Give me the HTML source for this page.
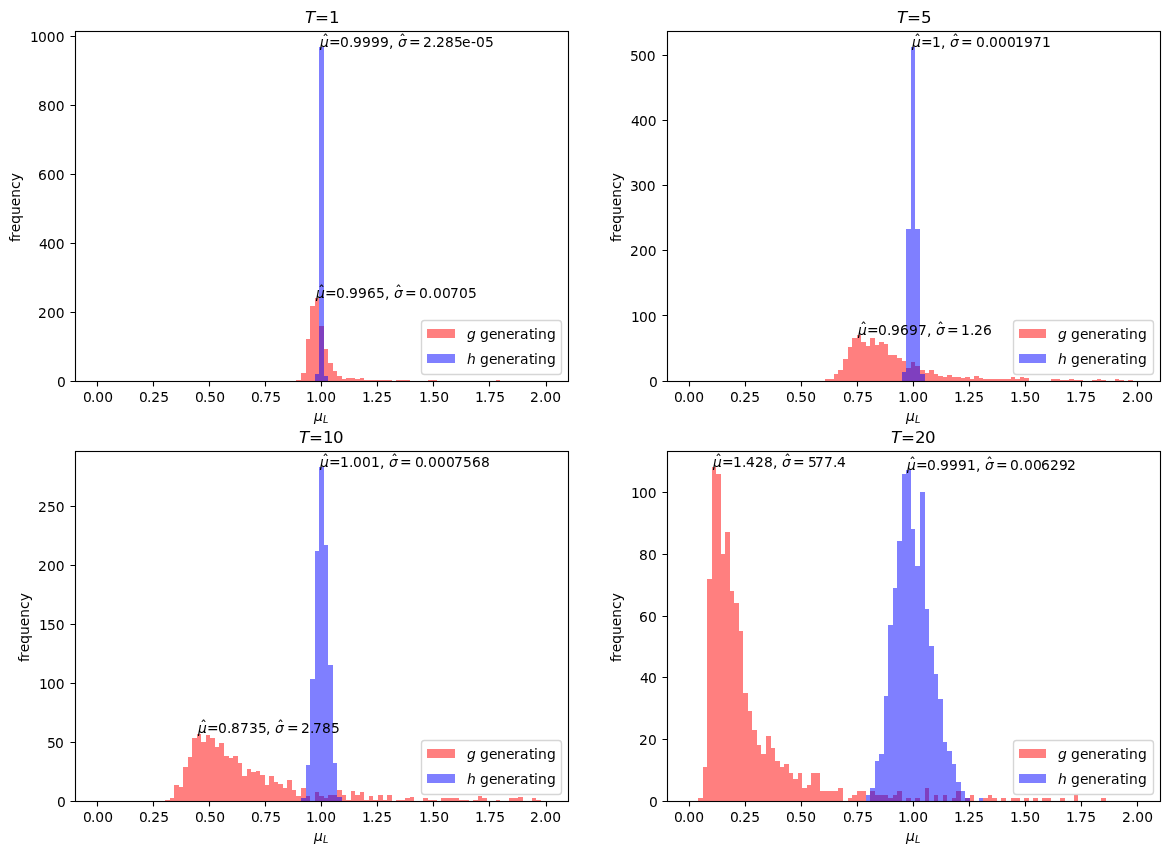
<!DOCTYPE html>
<html lang="en"><head><meta charset="utf-8"><title>Importance sampling histograms</title>
<style>html,body{margin:0;padding:0;background:#fff;overflow:hidden}svg{display:block}text{white-space:pre}</style></head>
<body>
<svg width="1169" height="855" viewBox="0 0 1169 855" font-family="'DejaVu Sans','Liberation Sans',sans-serif" font-size="13.8889" fill="#000">
<rect width="1169" height="855" fill="#fff"/>
<g id="ax1">
<path class="bars-g" fill="#ff0000" fill-opacity="0.5" shape-rendering="crispEdges" d="M296 380h5v1h-5zM301 373h5v8h-5zM306 339h4v42h-4zM310 306h5v75h-5zM315 298h4v83h-4zM319 326h5v55h-5zM324 349h4v32h-4zM328 363h5v18h-5zM333 371h4v10h-4zM337 376h5v5h-5zM342 379h4v2h-4zM346 378h5v3h-5zM351 378h4v3h-4zM355 379h5v2h-5zM360 378h4v3h-4zM364 380h5v1h-5zM369 380h4v1h-4zM373 380h5v1h-5zM378 380h5v1h-5zM383 380h4v1h-4zM387 380h5v1h-5zM396 380h5v1h-5zM401 380h4v1h-4zM405 380h5v1h-5zM428 380h4v1h-4zM432 380h5v1h-5zM496 380h4v1h-4z"/>
<path class="bars-h" fill="#0000ff" fill-opacity="0.5" shape-rendering="crispEdges" d="M315 374h4v7h-4zM319 47h5v334h-5zM324 376h4v5h-4z"/>
<path class="ticks" fill="none" stroke="#000" stroke-width="1.1111" d="M97.5 381.5v5M153.5 381.5v5M209.5 381.5v5M265.5 381.5v5M321.5 381.5v5M377.5 381.5v5M433.5 381.5v5M489.5 381.5v5M546.5 381.5v5M75.5 381.5h-5M75.5 312.5h-5M75.5 243.5h-5M75.5 174.5h-5M75.5 105.5h-5M75.5 36.5h-5"/>
<rect class="spines" x="75.5" y="31.5" width="493" height="350" fill="none" stroke="#000" stroke-width="1.1111"/>
<text><tspan x="83 90.875 95.25 104.125" y="402">0.00</tspan></text>
<text><tspan x="139 146.875 151.25 160.125" y="402">0.25</tspan></text>
<text><tspan x="195 202.875 207.25 216.125" y="402">0.50</tspan></text>
<text><tspan x="251 258.875 263.25 272.125" y="402">0.75</tspan></text>
<text><tspan x="306 313.875 318.25 327.125" y="402">1.00</tspan></text>
<text><tspan x="362 369.875 374.25 383.125" y="402">1.25</tspan></text>
<text><tspan x="419 426.875 431.25 440.125" y="402">1.50</tspan></text>
<text><tspan x="475 482.875 487.25 496.125" y="402">1.75</tspan></text>
<text><tspan x="530 538.875 543.25 552.125" y="402">2.00</tspan></text>
<text><tspan x="57" y="387">0</tspan></text>
<text><tspan x="38 46.875 55.75" y="318">200</tspan></text>
<text><tspan x="39 46.875 55.75" y="249">400</tspan></text>
<text><tspan x="38 46.875 55.75" y="180">600</tspan></text>
<text><tspan x="38 46.875 55.75" y="111">800</tspan></text>
<text><tspan x="30 37.875 46.75 55.625" y="42">1000</tspan></text>
<text transform="translate(20 242) rotate(-90)" x="0 4 9.75 18.25 27.125 35.875 44.375 53.125 60.75" y="0">frequency</text>
<g class="mtext"><text class="hat" x="325" y="296">&#x302;</text><text class="hat" x="402" y="296">&#x302;</text><text><tspan x="316" y="298" font-style="italic">μ</tspan><tspan x="325 336 345 349 358 367 376 385 389" y="298">=0.9965, </tspan><tspan x="394" y="298" font-style="italic">σ</tspan><tspan x="405 419 428 433 442 450 459 468" y="298">=0.00705</tspan></text></g>
<g class="mtext"><text class="hat" x="329" y="45">&#x302;</text><text class="hat" x="406" y="45">&#x302;</text><text><tspan x="320" y="47" font-style="italic">μ</tspan><tspan x="329 340 349 353 362 371 380 389 393" y="47">=0.9999, </tspan><tspan x="398" y="47" font-style="italic">σ</tspan><tspan x="409 423 432 436 445 454 462 471 476 485" y="47">=2.285e-05</tspan></text></g>
<g class="mtext"><text font-size="16.667"><tspan x="305" y="23" font-style="italic">T</tspan><tspan x="315 329" y="23">=1</tspan></text></g>
<path class="legend-frame" d="M424.5 374.5L558.5 374.5Q561.5 374.5 561.5 371.5L561.5 323.5Q561.5 320.5 558.5 320.5L424.5 320.5Q421.5 320.5 421.5 323.5L421.5 371.5Q421.5 374.5 424.5 374.5Z" fill="#fff" fill-opacity="0.8" stroke="#cccccc" stroke-opacity="0.8" stroke-width="1.3889" stroke-linejoin="miter"/>
<rect class="legend-handle" x="427" y="329" width="28" height="9" fill="#ff0000" fill-opacity="0.5" shape-rendering="crispEdges"/>
<rect class="legend-handle" x="427" y="354" width="28" height="9" fill="#0000ff" fill-opacity="0.5" shape-rendering="crispEdges"/>
<g class="mtext"><text><tspan x="467" y="339" font-style="italic">g</tspan><tspan x="475 480 489 497 506 514 520 529 534 538 547" y="339"> generating</tspan></text></g>
<g class="mtext"><text><tspan x="467" y="364" font-style="italic">h</tspan><tspan x="475 480 489 497 506 514 520 529 534 538 547" y="364"> generating</tspan></text></g>
</g>
<g id="ax2">
<path class="bars-g" fill="#ff0000" fill-opacity="0.5" shape-rendering="crispEdges" d="M825 379h4v2h-4zM829 379h5v2h-5zM834 374h4v7h-4zM838 370h5v11h-5zM843 359h5v22h-5zM848 347h4v34h-4zM852 338h5v43h-5zM857 335h4v46h-4zM861 342h5v39h-5zM866 346h4v35h-4zM870 338h5v43h-5zM875 345h4v36h-4zM879 342h5v39h-5zM884 344h4v37h-4zM888 355h5v26h-5zM893 355h4v26h-4zM897 358h5v23h-5zM902 361h4v20h-4zM906 368h5v13h-5zM911 362h4v19h-4zM915 366h5v15h-5zM920 370h5v11h-5zM925 373h4v8h-4zM929 370h5v11h-5zM934 374h4v7h-4zM938 376h5v5h-5zM943 377h4v4h-4zM947 375h5v6h-5zM952 377h4v4h-4zM956 377h5v4h-5zM961 378h4v3h-4zM965 377h5v4h-5zM970 379h4v2h-4zM974 376h5v5h-5zM979 378h4v3h-4zM983 379h5v2h-5zM988 379h4v2h-4zM992 379h5v2h-5zM997 379h4v2h-4zM1001 379h5v2h-5zM1006 379h5v2h-5zM1011 377h4v4h-4zM1015 379h5v2h-5zM1020 377h4v4h-4zM1024 378h5v3h-5zM1051 379h5v2h-5zM1056 379h4v2h-4zM1060 380h5v1h-5zM1065 380h4v1h-4zM1069 379h5v2h-5zM1074 380h4v1h-4zM1078 380h5v1h-5zM1092 380h5v1h-5zM1097 379h4v2h-4zM1101 380h5v1h-5zM1115 379h4v2h-4zM1119 380h5v1h-5zM1128 380h5v1h-5z"/>
<path class="bars-h" fill="#0000ff" fill-opacity="0.5" shape-rendering="crispEdges" d="M902 372h4v9h-4zM906 229h5v152h-5zM911 47h4v334h-4zM915 229h5v152h-5zM920 374h5v7h-5z"/>
<path class="ticks" fill="none" stroke="#000" stroke-width="1.1111" d="M689.5 381.5v5M745.5 381.5v5M801.5 381.5v5M857.5 381.5v5M913.5 381.5v5M969.5 381.5v5M1025.5 381.5v5M1081.5 381.5v5M1137.5 381.5v5M667.5 381.5h-5M667.5 315.5h-5M667.5 250.5h-5M667.5 185.5h-5M667.5 120.5h-5M667.5 55.5h-5"/>
<rect class="spines" x="667.5" y="31.5" width="493" height="350" fill="none" stroke="#000" stroke-width="1.1111"/>
<text><tspan x="674 681.875 686.25 695.125" y="402">0.00</tspan></text>
<text><tspan x="730 737.875 742.25 751.125" y="402">0.25</tspan></text>
<text><tspan x="786 793.875 798.25 807.125" y="402">0.50</tspan></text>
<text><tspan x="843 850.875 855.25 864.125" y="402">0.75</tspan></text>
<text><tspan x="898 905.875 910.25 919.125" y="402">1.00</tspan></text>
<text><tspan x="954 961.875 966.25 975.125" y="402">1.25</tspan></text>
<text><tspan x="1010 1017.875 1022.25 1031.125" y="402">1.50</tspan></text>
<text><tspan x="1066 1073.875 1078.25 1087.125" y="402">1.75</tspan></text>
<text><tspan x="1122 1130.875 1135.25 1144.125" y="402">2.00</tspan></text>
<text><tspan x="649" y="387">0</tspan></text>
<text><tspan x="631 638.875 647.75" y="322">100</tspan></text>
<text><tspan x="630 638.875 647.75" y="256">200</tspan></text>
<text><tspan x="630 637.875 646.75" y="191">300</tspan></text>
<text><tspan x="631 638.875 647.75" y="126">400</tspan></text>
<text><tspan x="630 637.875 646.75" y="61">500</tspan></text>
<text transform="translate(621 242) rotate(-90)" x="0 4 9.75 18.25 27.125 35.875 44.375 53.125 60.75" y="0">frequency</text>
<g class="mtext"><text class="hat" x="867" y="333">&#x302;</text><text class="hat" x="944" y="333">&#x302;</text><text><tspan x="858" y="335" font-style="italic">μ</tspan><tspan x="867 878 887 891 900 909 918 927 931" y="335">=0.9697, </tspan><tspan x="936" y="335" font-style="italic">σ</tspan><tspan x="947 961 970 974 983" y="335">=1.26</tspan></text></g>
<g class="mtext"><text class="hat" x="921" y="45">&#x302;</text><text class="hat" x="959" y="45">&#x302;</text><text><tspan x="912" y="47" font-style="italic">μ</tspan><tspan x="921 932 941 945" y="47">=1, </tspan><tspan x="950" y="47" font-style="italic">σ</tspan><tspan x="961 976 985 989 998 1007 1015 1024 1033 1042" y="47">=0.0001971</tspan></text></g>
<g class="mtext"><text font-size="16.667"><tspan x="897" y="23" font-style="italic">T</tspan><tspan x="907 921" y="23">=5</tspan></text></g>
<path class="legend-frame" d="M1016.5 374.5L1150.5 374.5Q1153.5 374.5 1153.5 371.5L1153.5 323.5Q1153.5 320.5 1150.5 320.5L1016.5 320.5Q1013.5 320.5 1013.5 323.5L1013.5 371.5Q1013.5 374.5 1016.5 374.5Z" fill="#fff" fill-opacity="0.8" stroke="#cccccc" stroke-opacity="0.8" stroke-width="1.3889" stroke-linejoin="miter"/>
<rect class="legend-handle" x="1019" y="329" width="27" height="9" fill="#ff0000" fill-opacity="0.5" shape-rendering="crispEdges"/>
<rect class="legend-handle" x="1019" y="354" width="27" height="9" fill="#0000ff" fill-opacity="0.5" shape-rendering="crispEdges"/>
<g class="mtext"><text><tspan x="1058" y="339" font-style="italic">g</tspan><tspan x="1066 1071 1080 1088 1097 1105 1111 1120 1125 1129 1138" y="339"> generating</tspan></text></g>
<g class="mtext"><text><tspan x="1058" y="364" font-style="italic">h</tspan><tspan x="1066 1071 1080 1088 1097 1105 1111 1120 1125 1129 1138" y="364"> generating</tspan></text></g>
</g>
<g id="ax3">
<path class="bars-g" fill="#ff0000" fill-opacity="0.5" shape-rendering="crispEdges" d="M165 800h5v1h-5zM170 798h4v3h-4zM174 785h5v16h-5zM179 787h4v14h-4zM183 767h5v34h-5zM188 757h4v44h-4zM192 738h5v63h-5zM197 734h4v67h-4zM201 742h5v59h-5zM206 735h4v66h-4zM210 738h5v63h-5zM215 747h4v54h-4zM219 743h5v58h-5zM224 756h5v45h-5zM229 758h4v43h-4zM233 756h5v45h-5zM238 763h4v38h-4zM242 776h5v25h-5zM247 769h4v32h-4zM251 772h5v29h-5zM256 771h4v30h-4zM260 775h5v26h-5zM265 785h4v16h-4zM269 776h5v25h-5zM274 782h4v19h-4zM278 784h5v17h-5zM283 788h4v13h-4zM287 780h5v21h-5zM292 790h4v11h-4zM296 796h5v5h-5zM301 788h5v13h-5zM306 796h4v5h-4zM315 792h4v9h-4zM319 796h5v5h-5zM324 798h4v3h-4zM328 795h5v6h-5zM333 795h4v6h-4zM337 790h5v11h-5zM342 795h4v6h-4zM346 800h5v1h-5zM351 791h4v10h-4zM355 795h5v6h-5zM360 792h4v9h-4zM364 800h5v1h-5zM369 796h4v5h-4zM373 800h5v1h-5zM378 795h5v6h-5zM383 800h4v1h-4zM387 795h5v6h-5zM396 800h5v1h-5zM401 800h4v1h-4zM405 798h5v3h-5zM410 797h4v4h-4zM423 798h5v3h-5zM428 800h4v1h-4zM432 800h5v1h-5zM441 798h5v3h-5zM446 798h4v3h-4zM450 798h5v3h-5zM455 798h4v3h-4zM459 800h5v1h-5zM464 800h5v1h-5zM473 800h5v1h-5zM478 796h4v5h-4zM482 798h5v3h-5zM496 800h4v1h-4zM509 798h5v3h-5zM514 798h4v3h-4zM518 797h5v4h-5zM532 798h4v3h-4zM536 800h5v1h-5z"/>
<path class="bars-h" fill="#0000ff" fill-opacity="0.5" shape-rendering="crispEdges" d="M301 798h5v3h-5zM306 765h4v36h-4zM310 679h5v122h-5zM315 551h4v250h-4zM319 467h5v334h-5zM324 545h4v256h-4zM328 665h5v136h-5zM333 763h4v38h-4zM337 797h5v4h-5z"/>
<path class="ticks" fill="none" stroke="#000" stroke-width="1.1111" d="M97.5 801.5v5M153.5 801.5v5M209.5 801.5v5M265.5 801.5v5M321.5 801.5v5M377.5 801.5v5M433.5 801.5v5M489.5 801.5v5M546.5 801.5v5M75.5 801.5h-5M75.5 742.5h-5M75.5 683.5h-5M75.5 624.5h-5M75.5 565.5h-5M75.5 506.5h-5"/>
<rect class="spines" x="75.5" y="451.5" width="493" height="350" fill="none" stroke="#000" stroke-width="1.1111"/>
<g class="mtext"><text><tspan x="314" y="421" font-style="italic">μ</tspan><tspan x="323" y="423" font-style="italic" font-size="9.722">L</tspan></text></g>
<text><tspan x="83 90.875 95.25 104.125" y="822">0.00</tspan></text>
<text><tspan x="139 146.875 151.25 160.125" y="822">0.25</tspan></text>
<text><tspan x="195 202.875 207.25 216.125" y="822">0.50</tspan></text>
<text><tspan x="251 258.875 263.25 272.125" y="822">0.75</tspan></text>
<text><tspan x="306 313.875 318.25 327.125" y="822">1.00</tspan></text>
<text><tspan x="362 369.875 374.25 383.125" y="822">1.25</tspan></text>
<text><tspan x="419 426.875 431.25 440.125" y="822">1.50</tspan></text>
<text><tspan x="475 482.875 487.25 496.125" y="822">1.75</tspan></text>
<text><tspan x="530 538.875 543.25 552.125" y="822">2.00</tspan></text>
<g class="mtext"><text><tspan x="314" y="841" font-style="italic">μ</tspan><tspan x="323" y="843" font-style="italic" font-size="9.722">L</tspan></text></g>
<text><tspan x="57" y="807">0</tspan></text>
<text><tspan x="47 54.875" y="748">50</tspan></text>
<text><tspan x="39 46.875 55.75" y="689">100</tspan></text>
<text><tspan x="39 46.875 55.75" y="630">150</tspan></text>
<text><tspan x="38 46.875 55.75" y="571">200</tspan></text>
<text><tspan x="38 46.875 55.75" y="512">250</tspan></text>
<text transform="translate(29 662) rotate(-90)" x="0 4 9.75 18.25 27.125 35.875 44.375 53.125 60.75" y="0">frequency</text>
<g class="mtext"><text class="hat" x="207" y="731">&#x302;</text><text class="hat" x="284" y="731">&#x302;</text><text><tspan x="198" y="733" font-style="italic">μ</tspan><tspan x="207 218 227 231 240 249 258 266 271" y="733">=0.8735, </tspan><tspan x="275" y="733" font-style="italic">σ</tspan><tspan x="287 301 310 313 322 331" y="733">=2.785</tspan></text></g>
<g class="mtext"><text class="hat" x="329" y="465">&#x302;</text><text class="hat" x="398" y="465">&#x302;</text><text><tspan x="320" y="467" font-style="italic">μ</tspan><tspan x="329 340 349 353 362 371 380 384" y="467">=1.001, </tspan><tspan x="389" y="467" font-style="italic">σ</tspan><tspan x="400 415 423 428 437 446 454 463 472 481" y="467">=0.0007568</tspan></text></g>
<g class="mtext"><text font-size="16.667"><tspan x="299" y="443" font-style="italic">T</tspan><tspan x="309 323 333" y="443">=10</tspan></text></g>
<path class="legend-frame" d="M424.5 794.5L558.5 794.5Q561.5 794.5 561.5 791.5L561.5 743.5Q561.5 740.5 558.5 740.5L424.5 740.5Q421.5 740.5 421.5 743.5L421.5 791.5Q421.5 794.5 424.5 794.5Z" fill="#fff" fill-opacity="0.8" stroke="#cccccc" stroke-opacity="0.8" stroke-width="1.3889" stroke-linejoin="miter"/>
<rect class="legend-handle" x="427" y="749" width="28" height="9" fill="#ff0000" fill-opacity="0.5" shape-rendering="crispEdges"/>
<rect class="legend-handle" x="427" y="774" width="28" height="9" fill="#0000ff" fill-opacity="0.5" shape-rendering="crispEdges"/>
<g class="mtext"><text><tspan x="467" y="759" font-style="italic">g</tspan><tspan x="475 480 489 497 506 514 520 529 534 538 547" y="759"> generating</tspan></text></g>
<g class="mtext"><text><tspan x="467" y="784" font-style="italic">h</tspan><tspan x="475 480 489 497 506 514 520 529 534 538 547" y="784"> generating</tspan></text></g>
</g>
<g id="ax4">
<path class="bars-g" fill="#ff0000" fill-opacity="0.5" shape-rendering="crispEdges" d="M698 798h5v3h-5zM703 767h4v34h-4zM707 579h5v222h-5zM712 467h4v334h-4zM716 474h5v327h-5zM721 554h4v247h-4zM725 532h5v269h-5zM730 591h4v210h-4zM734 603h5v198h-5zM739 631h4v170h-4zM743 693h5v108h-5zM748 711h4v90h-4zM752 730h5v71h-5zM757 745h4v56h-4zM761 754h5v47h-5zM766 736h5v65h-5zM771 748h4v53h-4zM775 761h5v40h-5zM780 767h4v34h-4zM784 764h5v37h-5zM789 773h4v28h-4zM793 779h5v22h-5zM798 773h4v28h-4zM802 788h5v13h-5zM807 785h4v16h-4zM811 773h5v28h-5zM816 773h4v28h-4zM820 791h5v10h-5zM825 791h4v10h-4zM829 791h5v10h-5zM834 791h4v10h-4zM838 788h5v13h-5zM848 798h4v3h-4zM852 795h5v6h-5zM857 791h4v10h-4zM861 791h5v10h-5zM870 791h5v10h-5zM875 795h4v6h-4zM879 795h5v6h-5zM884 795h4v6h-4zM888 798h5v3h-5zM893 795h4v6h-4zM897 791h5v10h-5zM906 798h5v3h-5zM915 798h5v3h-5zM925 788h4v13h-4zM934 795h4v6h-4zM943 795h4v6h-4zM952 798h4v3h-4zM956 791h5v10h-5zM965 798h5v3h-5zM970 795h4v6h-4zM983 798h5v3h-5zM988 795h4v6h-4zM992 798h5v3h-5zM1001 798h5v3h-5zM1011 798h4v3h-4zM1015 798h5v3h-5zM1024 798h5v3h-5zM1033 798h5v3h-5zM1042 798h5v3h-5zM1047 798h4v3h-4zM1060 798h5v3h-5zM1074 795h4v6h-4zM1101 798h5v3h-5z"/>
<path class="bars-h" fill="#0000ff" fill-opacity="0.5" shape-rendering="crispEdges" d="M866 795h4v6h-4zM870 788h5v13h-5zM875 761h4v40h-4zM879 754h5v47h-5zM884 696h4v105h-4zM888 625h5v176h-5zM893 588h4v213h-4zM897 541h5v260h-5zM902 474h4v327h-4zM906 470h5v331h-5zM911 529h4v272h-4zM915 566h5v235h-5zM920 492h5v309h-5zM925 609h4v192h-4zM929 646h5v155h-5zM934 674h4v127h-4zM938 699h5v102h-5zM943 742h4v59h-4zM947 751h5v50h-5zM952 764h4v37h-4zM956 782h5v19h-5zM961 791h4v10h-4zM965 798h5v3h-5zM979 798h4v3h-4z"/>
<path class="ticks" fill="none" stroke="#000" stroke-width="1.1111" d="M689.5 801.5v5M745.5 801.5v5M801.5 801.5v5M857.5 801.5v5M913.5 801.5v5M969.5 801.5v5M1025.5 801.5v5M1081.5 801.5v5M1137.5 801.5v5M667.5 801.5h-5M667.5 739.5h-5M667.5 677.5h-5M667.5 616.5h-5M667.5 554.5h-5M667.5 492.5h-5"/>
<rect class="spines" x="667.5" y="451.5" width="493" height="350" fill="none" stroke="#000" stroke-width="1.1111"/>
<g class="mtext"><text><tspan x="906" y="421" font-style="italic">μ</tspan><tspan x="915" y="423" font-style="italic" font-size="9.722">L</tspan></text></g>
<text><tspan x="674 681.875 686.25 695.125" y="822">0.00</tspan></text>
<text><tspan x="730 737.875 742.25 751.125" y="822">0.25</tspan></text>
<text><tspan x="786 793.875 798.25 807.125" y="822">0.50</tspan></text>
<text><tspan x="843 850.875 855.25 864.125" y="822">0.75</tspan></text>
<text><tspan x="898 905.875 910.25 919.125" y="822">1.00</tspan></text>
<text><tspan x="954 961.875 966.25 975.125" y="822">1.25</tspan></text>
<text><tspan x="1010 1017.875 1022.25 1031.125" y="822">1.50</tspan></text>
<text><tspan x="1066 1073.875 1078.25 1087.125" y="822">1.75</tspan></text>
<text><tspan x="1122 1130.875 1135.25 1144.125" y="822">2.00</tspan></text>
<g class="mtext"><text><tspan x="906" y="841" font-style="italic">μ</tspan><tspan x="915" y="843" font-style="italic" font-size="9.722">L</tspan></text></g>
<text><tspan x="649" y="807">0</tspan></text>
<text><tspan x="639 647.875" y="745">20</tspan></text>
<text><tspan x="640 647.875" y="683">40</tspan></text>
<text><tspan x="639 647.875" y="622">60</tspan></text>
<text><tspan x="639 647.875" y="560">80</tspan></text>
<text><tspan x="631 638.875 647.75" y="498">100</tspan></text>
<text transform="translate(621 662) rotate(-90)" x="0 4 9.75 18.25 27.125 35.875 44.375 53.125 60.75" y="0">frequency</text>
<g class="mtext"><text class="hat" x="722" y="465">&#x302;</text><text class="hat" x="791" y="465">&#x302;</text><text><tspan x="713" y="467" font-style="italic">μ</tspan><tspan x="722 733 742 746 755 764 773 777" y="467">=1.428, </tspan><tspan x="782" y="467" font-style="italic">σ</tspan><tspan x="793 808 815 824 833 837" y="467">=577.4</tspan></text></g>
<g class="mtext"><text class="hat" x="916" y="468">&#x302;</text><text class="hat" x="993" y="468">&#x302;</text><text><tspan x="907" y="470" font-style="italic">μ</tspan><tspan x="916 927 936 940 949 958 967 976 980" y="470">=0.9991, </tspan><tspan x="985" y="470" font-style="italic">σ</tspan><tspan x="996 1010 1019 1024 1033 1041 1050 1059 1067" y="470">=0.006292</tspan></text></g>
<g class="mtext"><text font-size="16.667"><tspan x="891" y="443" font-style="italic">T</tspan><tspan x="901 915 925" y="443">=20</tspan></text></g>
<path class="legend-frame" d="M1016.5 794.5L1150.5 794.5Q1153.5 794.5 1153.5 791.5L1153.5 743.5Q1153.5 740.5 1150.5 740.5L1016.5 740.5Q1013.5 740.5 1013.5 743.5L1013.5 791.5Q1013.5 794.5 1016.5 794.5Z" fill="#fff" fill-opacity="0.8" stroke="#cccccc" stroke-opacity="0.8" stroke-width="1.3889" stroke-linejoin="miter"/>
<rect class="legend-handle" x="1019" y="749" width="27" height="9" fill="#ff0000" fill-opacity="0.5" shape-rendering="crispEdges"/>
<rect class="legend-handle" x="1019" y="774" width="27" height="9" fill="#0000ff" fill-opacity="0.5" shape-rendering="crispEdges"/>
<g class="mtext"><text><tspan x="1058" y="759" font-style="italic">g</tspan><tspan x="1066 1071 1080 1088 1097 1105 1111 1120 1125 1129 1138" y="759"> generating</tspan></text></g>
<g class="mtext"><text><tspan x="1058" y="784" font-style="italic">h</tspan><tspan x="1066 1071 1080 1088 1097 1105 1111 1120 1125 1129 1138" y="784"> generating</tspan></text></g>
</g>
</svg>
</body></html>
